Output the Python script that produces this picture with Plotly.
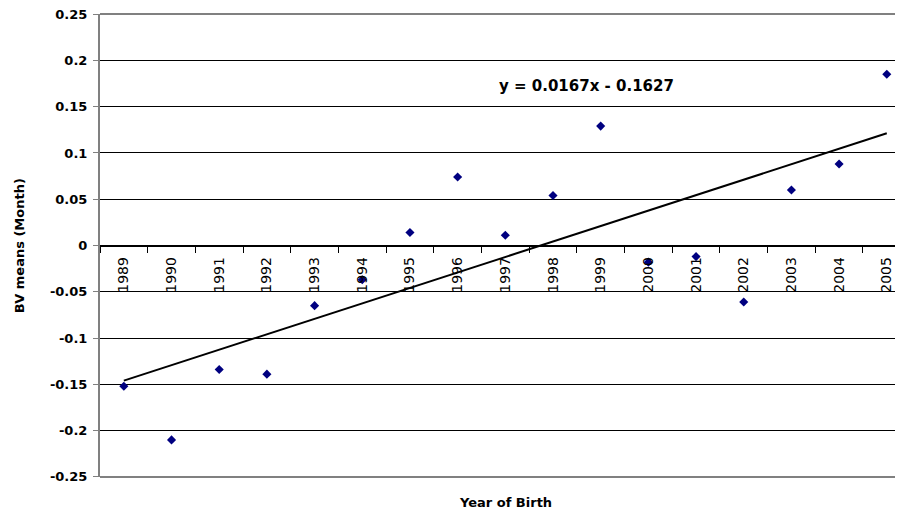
import plotly.graph_objects as go

years = ["1989", "1990", "1991", "1992", "1993", "1994", "1995", "1996", "1997",
         "1998", "1999", "2000", "2001", "2002", "2003", "2004", "2005"]
bv_means = [-0.152, -0.210, -0.134, -0.139, -0.065, -0.037, 0.014, 0.074, 0.011,
            0.054, 0.129, -0.018, -0.012, -0.061, 0.060, 0.088, 0.185]
trend_slope = 0.0167
trend_intercept = -0.1627
y_ticks = [0.25, 0.2, 0.15, 0.1, 0.05, 0, -0.05, -0.1, -0.15, -0.2, -0.25]
y_tick_labels = ["0.25", "0.2", "0.15", "0.1", "0.05", "0", "-0.05", "-0.1", "-0.15", "-0.2", "-0.25"]
equation = "y = 0.0167x - 0.1627"

FONT = "DejaVu Sans, sans-serif"

trend_x = [years[0], years[-1]]
trend_y = [trend_slope * 1 + trend_intercept, trend_slope * len(years) + trend_intercept]

fig = go.Figure()
fig.add_trace(go.Scatter(
    x=years, y=bv_means, mode="markers",
    marker=dict(symbol="diamond", size=7, color="#000080"),
    showlegend=False, cliponaxis=False))
fig.add_trace(go.Scatter(
    x=trend_x, y=trend_y, mode="lines",
    line=dict(color="black", width=2), showlegend=False))

# page body has an 8px margin: the figure is sized/offset to compensate
fig.update_layout(
    width=895, height=502,
    margin=dict(l=92, r=0, t=6, b=33),
    paper_bgcolor="white", plot_bgcolor="white",
    font=dict(family=FONT, color="black"),
    xaxis=dict(
        type="category", categoryorder="array", categoryarray=years,
        range=[-0.5, 16.34], anchor="free", position=0.5, automargin=False,
        showgrid=False, zeroline=False, showline=True, linecolor="black", linewidth=1,
        ticks="outside", ticklen=6, tickcolor="black", tickson="boundaries",
        ticklabelstandoff=5,
        tickangle=-90, tickfont=dict(size=14, family=FONT)),
    yaxis=dict(
        range=[-0.2501, 0.2501], tickvals=y_ticks, ticktext=y_tick_labels, automargin=False,
        showgrid=True, gridcolor="black", gridwidth=1, zeroline=False,
        showline=True, linecolor="#808080", linewidth=2,
        ticks="outside", ticklen=5, tickcolor="#808080", ticklabelstandoff=3,
        ticklabeloverflow="allow",
        tickfont=dict(size=13, family=FONT, weight="bold")),
    shapes=[
        dict(type="line", xref="paper", yref="paper", x0=0, x1=1, y0=1, y1=1,
             line=dict(color="#808080", width=2)),
        dict(type="line", xref="paper", yref="paper", x0=0, x1=1, y0=0, y1=0,
             line=dict(color="#808080", width=2)),
    ],
    annotations=[
        dict(text=equation, x=9.7, y=0.172, xref="x", yref="y", showarrow=False,
             xanchor="center", yanchor="middle",
             font=dict(size=15, family=FONT, weight="bold")),
        dict(text="Year of Birth", x=0.505, y=-0.056, xref="paper", yref="paper",
             xanchor="center", yanchor="middle",
             showarrow=False, font=dict(size=13, family=FONT, weight="bold")),
        dict(text="BV means (Month)", x=-0.1, y=0.5, xref="paper", yref="paper",
             xanchor="center", yanchor="middle",
             textangle=-90, showarrow=False, font=dict(size=13, family=FONT, weight="bold")),
    ],
)

fig.write_html("out.html")
